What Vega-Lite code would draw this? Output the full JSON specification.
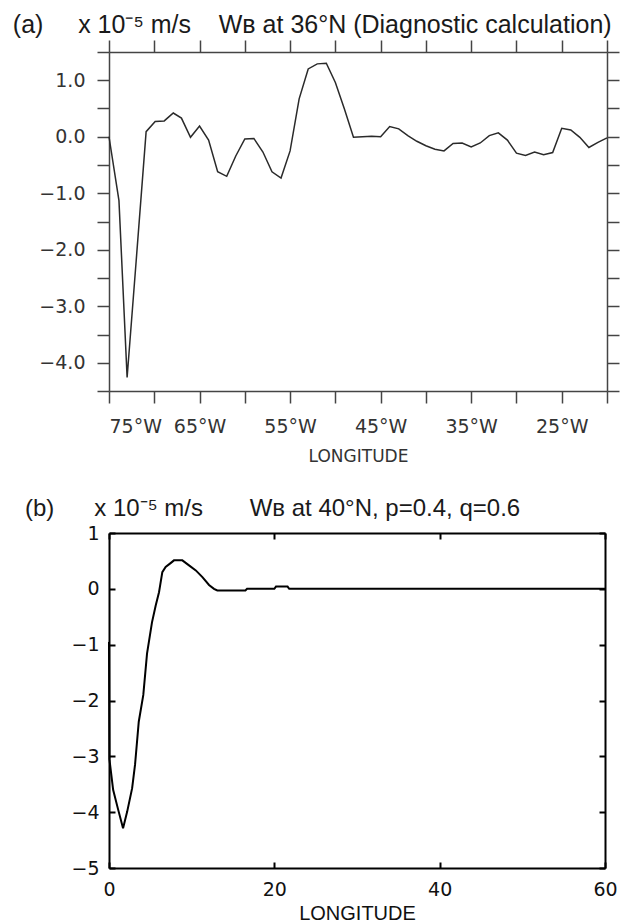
{
  "$schema": "https://vega.github.io/schema/vega-lite/v6.json",
  "background": "white",
  "padding": {"left": 12, "top": 13, "right": 10, "bottom": 2},
  "spacing": 33,
  "config": {
    "view": {"stroke": null},
    "axis": {"grid": false},
    "title": {"font": "Liberation Sans", "fontWeight": "normal", "anchor": "start", "color": "#1a1a1a"}
  },
  "vconcat": [
    {
      "width": 498,
      "height": 339,
      "title": {"text": "(a)\u00a0\u00a0\u00a0\u00a0 x 10⁻⁵ m/s\u00a0\u00a0\u00a0 Wʙ at 36°N (Diagnostic calculation)", "fontSize": 25, "dx": -26, "offset": 1},
      "data": {"values": [
        {"lon": -75, "w": 0}, {"lon": -73.9, "w": -1.13}, {"lon": -73, "w": -4.26}, {"lon": -72, "w": -2.2},
        {"lon": -70.9, "w": 0.09}, {"lon": -69.9, "w": 0.27}, {"lon": -68.9, "w": 0.28}, {"lon": -67.9, "w": 0.42},
        {"lon": -67, "w": 0.33}, {"lon": -66, "w": -0.01}, {"lon": -65, "w": 0.19}, {"lon": -64, "w": -0.06},
        {"lon": -63, "w": -0.62}, {"lon": -62, "w": -0.7}, {"lon": -61, "w": -0.34}, {"lon": -60, "w": -0.04},
        {"lon": -59, "w": -0.03}, {"lon": -58, "w": -0.27}, {"lon": -57, "w": -0.62}, {"lon": -56, "w": -0.73},
        {"lon": -55, "w": -0.25}, {"lon": -54, "w": 0.67}, {"lon": -53, "w": 1.2}, {"lon": -52, "w": 1.29},
        {"lon": -51, "w": 1.3}, {"lon": -50, "w": 0.96}, {"lon": -49, "w": 0.49}, {"lon": -48, "w": -0.01},
        {"lon": -47, "w": 0.0}, {"lon": -46, "w": 0.01}, {"lon": -45, "w": 0.0}, {"lon": -44, "w": 0.18},
        {"lon": -43, "w": 0.14}, {"lon": -42, "w": 0.02}, {"lon": -41, "w": -0.08}, {"lon": -40, "w": -0.16},
        {"lon": -39, "w": -0.22}, {"lon": -38, "w": -0.25}, {"lon": -37, "w": -0.12}, {"lon": -36, "w": -0.11},
        {"lon": -35, "w": -0.18}, {"lon": -34, "w": -0.11}, {"lon": -33, "w": 0.02}, {"lon": -32, "w": 0.07},
        {"lon": -31, "w": -0.06}, {"lon": -30, "w": -0.29}, {"lon": -29, "w": -0.33}, {"lon": -28, "w": -0.27},
        {"lon": -27, "w": -0.32}, {"lon": -26, "w": -0.28}, {"lon": -25, "w": 0.15}, {"lon": -24, "w": 0.12},
        {"lon": -23, "w": -0.01}, {"lon": -22, "w": -0.19}, {"lon": -21, "w": -0.1}, {"lon": -20, "w": -0.02}
      ]},
      "layer": [
        {
          "mark": {"type": "line", "color": "#2a2a2a", "strokeWidth": 1.5},
          "encoding": {
            "x": {"field": "lon", "type": "quantitative",
              "scale": {"domain": [-75, -20], "nice": false, "zero": false},
              "axis": {"orient": "bottom", "values": [-75, -70, -65, -60, -55, -50, -45, -40, -35, -30, -25, -20],
                "labelExpr": "(datum.value + 75) % 10 == 0 ? abs(datum.value) + '°W' : ''",
                "title": "LONGITUDE", "titleFont": "DejaVu Sans", "titleFontSize": 17, "titleFontWeight": "normal", "titleColor": "#333", "titlePadding": 12,
                "labelFont": "DejaVu Sans", "labelFontSize": 19, "labelColor": "#333", "labelPadding": 14,
                "domainColor": "#444", "domainWidth": 1.5, "tickColor": "#444", "tickWidth": 1.5, "tickSize": 12}},
            "y": {"field": "w", "type": "quantitative",
              "scale": {"domain": [-4.5, 1.5], "nice": false, "zero": false},
              "axis": {"orient": "left", "values": [-4.5, -4, -3.5, -3, -2.5, -2, -1.5, -1, -0.5, 0, 0.5, 1, 1.5],
                "labelExpr": "datum.value % 1 == 0 ? format(datum.value, '.1f') : ''",
                "title": null,
                "labelFont": "DejaVu Sans", "labelFontSize": 19, "labelColor": "#333", "labelPadding": 12,
                "domainColor": "#444", "domainWidth": 1.5, "tickColor": "#444", "tickWidth": 1.5, "tickSize": 12}}
          }
        },
        {
          "mark": {"type": "line", "opacity": 0},
          "encoding": {
            "x": {"field": "lon", "type": "quantitative",
              "axis": {"orient": "top", "values": [-75, -70, -65, -60, -55, -50, -45, -40, -35, -30, -25, -20],
                "labels": false, "title": null,
                "domainColor": "#444", "domainWidth": 1.5, "tickColor": "#444", "tickWidth": 1.5, "tickSize": 12}},
            "y": {"field": "w", "type": "quantitative",
              "axis": {"orient": "right", "values": [-4.5, -4, -3.5, -3, -2.5, -2, -1.5, -1, -0.5, 0, 0.5, 1, 1.5],
                "labels": false, "title": null,
                "domainColor": "#444", "domainWidth": 1.5, "tickColor": "#444", "tickWidth": 1.5, "tickSize": 12}}
          }
        }
      ],
      "resolve": {"axis": {"x": "independent", "y": "independent"}}
    },
    {
      "width": 496,
      "height": 335,
      "title": {"text": "(b)\u00a0\u00a0\u00a0\u00a0\u00a0 x 10⁻⁵ m/s\u00a0\u00a0\u00a0\u00a0\u00a0\u00a0 Wʙ at 40°N, p=0.4, q=0.6", "fontSize": 24, "dx": -46, "offset": 3},
      "data": {"values": [
        {"lon": 0, "w": -0.95}, {"lon": 0.05, "w": -3.05}, {"lon": 0.5, "w": -3.6}, {"lon": 1.1, "w": -3.95},
        {"lon": 1.7, "w": -4.29}, {"lon": 2.2, "w": -3.99}, {"lon": 2.8, "w": -3.57}, {"lon": 3.15, "w": -3.15},
        {"lon": 3.6, "w": -2.38}, {"lon": 4.15, "w": -1.9}, {"lon": 4.6, "w": -1.16}, {"lon": 5.2, "w": -0.6},
        {"lon": 5.65, "w": -0.3}, {"lon": 6.05, "w": -0.06}, {"lon": 6.45, "w": 0.3}, {"lon": 6.85, "w": 0.39},
        {"lon": 7.45, "w": 0.46}, {"lon": 7.86, "w": 0.51}, {"lon": 8.87, "w": 0.51}, {"lon": 9.68, "w": 0.42},
        {"lon": 10.5, "w": 0.33}, {"lon": 11.3, "w": 0.21}, {"lon": 12.1, "w": 0.07}, {"lon": 12.7, "w": 0.0},
        {"lon": 13.1, "w": -0.03}, {"lon": 16.5, "w": -0.03}, {"lon": 16.7, "w": 0.0}, {"lon": 20, "w": 0.0},
        {"lon": 20.2, "w": 0.04}, {"lon": 21.6, "w": 0.04}, {"lon": 21.8, "w": 0.0}, {"lon": 60, "w": 0.0}
      ]},
      "layer": [
        {
          "mark": {"type": "line", "color": "black", "strokeWidth": 2},
          "encoding": {
            "x": {"field": "lon", "type": "quantitative",
              "scale": {"domain": [0, 60], "nice": false, "zero": false},
              "axis": {"orient": "bottom", "values": [0, 20, 40, 60],
                "title": "LONGITUDE", "titleFont": "Liberation Sans", "titleFontSize": 20, "titleFontWeight": "normal", "titleColor": "#111", "titlePadding": 4,
                "labelFont": "DejaVu Sans", "labelFontSize": 19, "labelColor": "#111", "labelPadding": 18, "labelFlush": false,
                "domainColor": "black", "domainWidth": 2, "tickColor": "black", "tickWidth": 2, "tickSize": -6}},
            "y": {"field": "w", "type": "quantitative",
              "scale": {"domain": [-5, 1], "nice": false, "zero": false},
              "axis": {"orient": "left", "values": [-5, -4, -3, -2, -1, 0, 1],
                "title": null,
                "labelFont": "DejaVu Sans", "labelFontSize": 19, "labelColor": "#111", "labelPadding": 16, "labelFlush": false,
                "domainColor": "black", "domainWidth": 2, "tickColor": "black", "tickWidth": 2, "tickSize": -6}}
          }
        },
        {
          "mark": {"type": "line", "opacity": 0},
          "encoding": {
            "x": {"field": "lon", "type": "quantitative",
              "axis": {"orient": "top", "values": [0, 20, 40, 60], "labels": false, "title": null,
                "domainColor": "black", "domainWidth": 2, "tickColor": "black", "tickWidth": 2, "tickSize": -6}},
            "y": {"field": "w", "type": "quantitative",
              "axis": {"orient": "right", "values": [-5, -4, -3, -2, -1, 0, 1], "labels": false, "title": null,
                "domainColor": "black", "domainWidth": 2, "tickColor": "black", "tickWidth": 2, "tickSize": -6}}
          }
        }
      ],
      "resolve": {"axis": {"x": "independent", "y": "independent"}}
    }
  ]
}
